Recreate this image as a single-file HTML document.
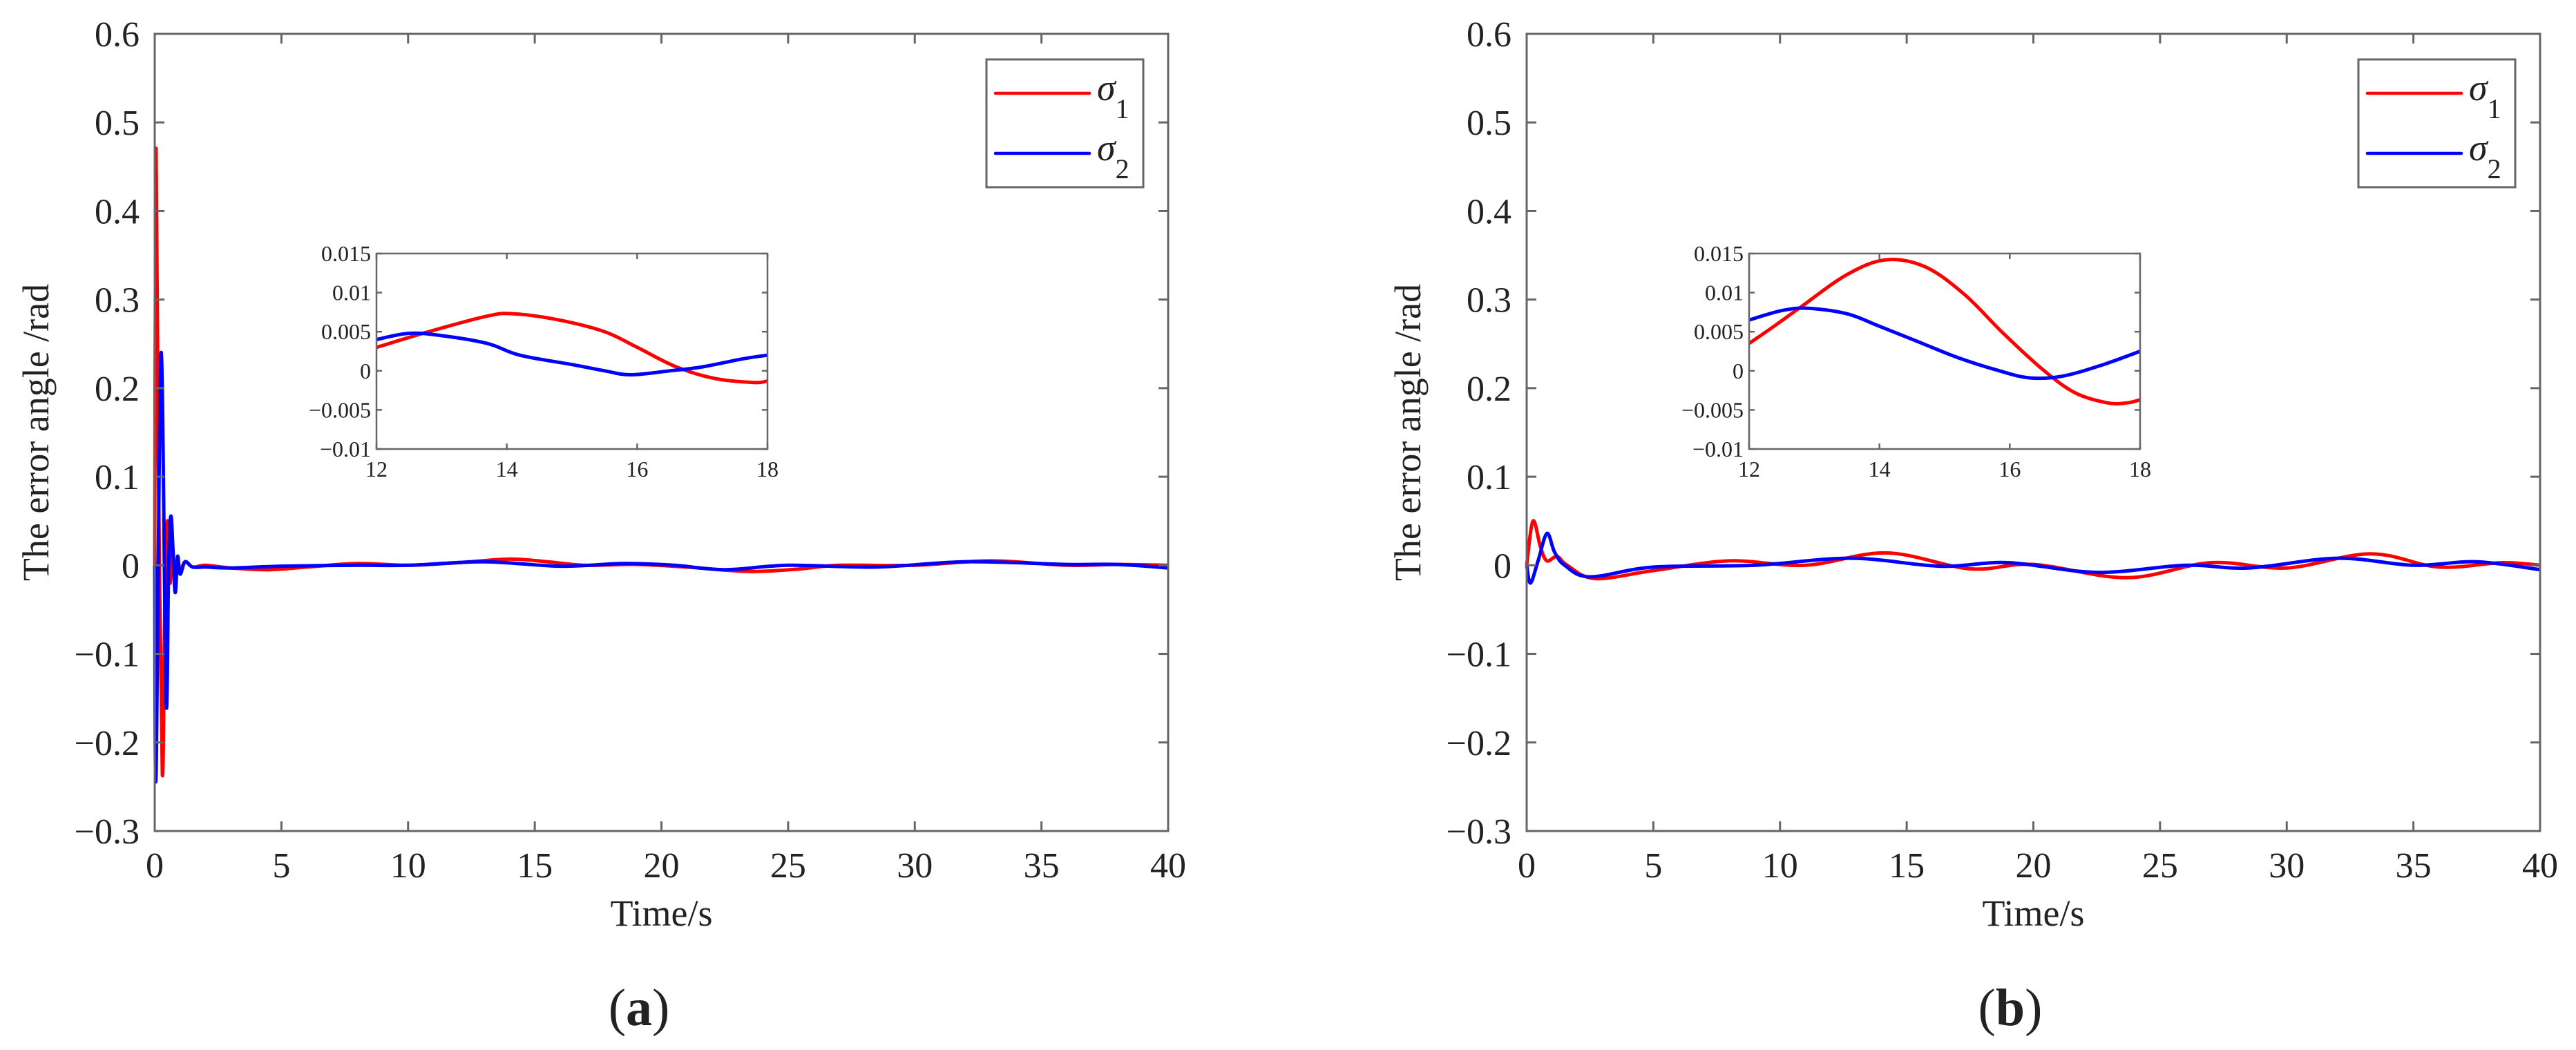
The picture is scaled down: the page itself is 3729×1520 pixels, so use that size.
<!DOCTYPE html>
<html><head><meta charset="utf-8">
<style>
html,body{margin:0;padding:0;background:#fff;}
svg{display:block;}
text{font-family:"Liberation Serif",serif;fill:#222;}
</style></head>
<body>
<svg id="fig" width="3729" height="1520" viewBox="0 0 3729 1520" xmlns="http://www.w3.org/2000/svg"></svg>
<script>
// ---- data ----
const xTicks = [0,5,10,15,20,25,30,35,40];
const yTicks = [-0.3,-0.2,-0.1,0,0.1,0.2,0.3,0.4,0.5,0.6];
const yTickLabels = ["\u22120.3","\u22120.2","\u22120.1","0","0.1","0.2","0.3","0.4","0.5","0.6"];
const insetXTicks = [12,14,16,18];
const insetYTicks = [-0.01,-0.005,0,0.005,0.01,0.015];
const insetYTickLabels = ["\u22120.01","\u22120.005","0","0.005","0.01","0.015"];

// panel (a) main series
const aT1 = [0,0.05,0.15,0.3,0.4,0.5,0.6,0.7,0.8,0.9,1.0,1.2,1.5,2,3,4.5,6,8,10,12,14,15.5,17,19,21,23.5,25.5,27,30,33,36,38,40];
const aS1 = [0,0.47,0.1,-0.235,-0.05,0.05,-0.02,0.02,-0.015,0.008,-0.006,0.004,-0.002,0,-0.003,-0.005,-0.002,0.002,0,0.003,0.007,0.004,0,0.001,-0.002,-0.007,-0.004,0,0,0.005,0,0.001,0];
const aT2 = [0,0.05,0.25,0.45,0.55,0.65,0.8,0.9,1.0,1.2,1.5,2,3,5,8,10,13,16,18.5,20.5,22.5,25,28.5,32,36,38,40];
const aS2 = [0,-0.24,0.24,-0.155,0.0,0.055,-0.03,0.01,-0.01,0.004,-0.002,-0.002,-0.003,-0.001,0,0,0.004,-0.001,0.002,0,-0.005,0,-0.002,0.004,0.001,0.001,-0.003];
// panel (a) inset
const aiT1 = [12,12.8,13.7,14.1,14.8,15.5,16,16.6,17.2,17.8,18];
const aiS1 = [0.003,0.005,0.007,0.0073,0.0065,0.005,0.003,0.0005,-0.001,-0.0015,-0.0013];
const aiT2 = [12,12.5,13,13.7,14.2,15,15.5,15.9,16.5,17,17.6,18];
const aiS2 = [0.004,0.0048,0.0045,0.0035,0.002,0.0008,0,-0.0005,0,0.0005,0.0015,0.002];

// panel (b) main series
const bT1 = [0,0.25,0.55,0.8,1.2,1.6,2.7,5,8,11,14.2,17.5,20,23.7,27,30,33.3,36,38.5,40];
const bS1 = [0,0.05,0.02,0.005,0.01,0.0,-0.015,-0.006,0.005,0,0.014,-0.004,0.001,-0.014,0.003,-0.003,0.013,-0.002,0.003,0];
const bT2 = [0,0.15,0.45,0.8,1.1,1.5,2.5,5,9,12.8,16.3,19,22.5,26,28.5,32,35,37.5,40];
const bS2 = [0,-0.02,0.005,0.036,0.015,0,-0.013,-0.002,0,0.008,-0.001,0.003,-0.008,0,-0.003,0.008,0,0.004,-0.005];
// panel (b) inset
const biT1 = [12,12.4,12.8,13.5,14.1,14.7,15.3,15.9,16.5,17,17.5,17.8,18];
const biS1 = [0.0035,0.0058,0.0082,0.0123,0.0142,0.0133,0.0098,0.0048,0.0002,-0.0028,-0.0041,-0.0041,-0.0037];
const biT2 = [12,12.5,12.9,13.5,14,14.6,15.2,15.8,16.3,16.8,17.4,18];
const biS2 = [0.0065,0.0077,0.008,0.0073,0.0057,0.0037,0.0017,0.0001,-0.0009,-0.0007,0.0007,0.0025];

const NS = "http://www.w3.org/2000/svg";
const svg = document.getElementById('fig');
function mk(tag, attrs, parent){
  const e = document.createElementNS(NS, tag);
  for (const k in attrs) e.setAttribute(k, attrs[k]);
  (parent||svg).appendChild(e);
  return e;
}
function linScale(d0,d1,r0,r1){ return v => r0 + (v-d0)/(d1-d0)*(r1-r0); }
function smoothPath(xs, ys){
  const n = xs.length;
  let d = "M"+xs[0].toFixed(1)+","+ys[0].toFixed(1);
  for (let i=0;i<n-1;i++){
    const x0 = xs[Math.max(0,i-1)], y0 = ys[Math.max(0,i-1)];
    const x1 = xs[i], y1 = ys[i], x2 = xs[i+1], y2 = ys[i+1];
    const x3 = xs[Math.min(n-1,i+2)], y3 = ys[Math.min(n-1,i+2)];
    const t = 1/6;
    const c1x = x1 + (x2-x0)*t, c1y = y1 + (y2-y0)*t;
    const c2x = x2 - (x3-x1)*t, c2y = y2 - (y3-y1)*t;
    d += " C"+c1x.toFixed(1)+","+c1y.toFixed(1)+" "+c2x.toFixed(1)+","+c2y.toFixed(1)+" "+x2.toFixed(1)+","+y2.toFixed(1);
  }
  return d;
}

function panel(cfg){
  const g = mk('g', {});
  
  
  const L=cfg.left, R=cfg.right, T=49, B=1203;
  const sx = linScale(0,40,L,R), sy = linScale(-0.3,0.6,B,T);
  [[cfg.t1,cfg.s1,'#ff0000','sigma1-line'],[cfg.t2,cfg.s2,'#0000ff','sigma2-line']].forEach(s=>{
    const p = mk('path', {d: smoothPath(s[0].map(sx), s[1].map(sy)), fill:'none', stroke:s[2], 'stroke-width':5, 'stroke-linejoin':'round'}, g);
    
    
  });
  const box = mk('rect', {x:L, y:T, width:R-L, height:B-T, fill:'none', stroke:'#666', 'stroke-width':3}, g);
  
  
  xTicks.forEach(v=>{
    const x = sx(v);
    mk('line',{x1:x,y1:B,x2:x,y2:B-14,stroke:'#666','stroke-width':3},g);
    mk('line',{x1:x,y1:T,x2:x,y2:T+14,stroke:'#666','stroke-width':3},g);
    const tx = mk('text',{x:x,y:1270,'font-size':52,'text-anchor':'middle'},g);
    tx.textContent = v;
    
    
  });
  yTicks.forEach((v,i)=>{
    const y = sy(v);
    mk('line',{x1:L,y1:y,x2:L+14,y2:y,stroke:'#666','stroke-width':3},g);
    mk('line',{x1:R,y1:y,x2:R-14,y2:y,stroke:'#666','stroke-width':3},g);
    const tx = mk('text',{x:L-22,y:y+18,'font-size':52,'text-anchor':'end'},g);
    tx.textContent = yTickLabels[i];
    
    
  });
  const xl = mk('text',{x:(L+R)/2,y:1340,'font-size':54,'text-anchor':'middle'},g);
  xl.textContent = 'Time/s';
  
  
  const yl = mk('text',{x:0,y:0,'font-size':54,'text-anchor':'middle',transform:'translate('+(L-154)+',626) rotate(-90)'},g);
  yl.textContent = 'The error angle /rad';
  
  
  const cap = mk('text',{x:cfg.capX,y:1484,'font-size':76,'text-anchor':'middle',fill:'#000'},g);
  cap.innerHTML = '(<tspan font-weight="bold">'+cfg.cap+'</tspan>)';
  
  
  const lg = mk('g',{},g);
  
  
  const lx = cfg.legX;
  mk('rect',{x:lx,y:86,width:227,height:185,fill:'#fff',stroke:'#666','stroke-width':3},lg);
  [['#ff0000','1',135],['#0000ff','2',222]].forEach(e=>{
    const le = mk('g',{},lg);
    
    
    mk('line',{x1:lx+13,y1:e[2],x2:lx+149,y2:e[2],stroke:e[0],'stroke-width':4.5,'stroke-linecap':'round'},le);
    const t = mk('text',{x:lx+160,y:e[2]+10,'font-size':54,'font-style':'italic'},le);
    t.innerHTML = '\u03C3<tspan dy="26" font-size="40" font-style="normal">'+e[1]+'</tspan>';
  });
  const ig = mk('g',{},g);
  
  
  const iL=cfg.inL, iR=cfg.inL+566, iT=367, iB=650;
  const isx = linScale(12,18,iL,iR), isy = linScale(-0.01,0.015,iB,iT);
  mk('rect',{x:iL,y:iT,width:iR-iL,height:iB-iT,fill:'#fff',stroke:'none'},ig);
  [[cfg.it1,cfg.is1,'#ff0000','inset-sigma1-line'],[cfg.it2,cfg.is2,'#0000ff','inset-sigma2-line']].forEach(s=>{
    const p = mk('path',{d:smoothPath(s[0].map(isx), s[1].map(isy)),fill:'none',stroke:s[2],'stroke-width':5},ig);
    
    
  });
  mk('rect',{x:iL,y:iT,width:iR-iL,height:iB-iT,fill:'none',stroke:'#666','stroke-width':2.5},ig);
  insetXTicks.forEach(v=>{
    const x = isx(v);
    mk('line',{x1:x,y1:iB,x2:x,y2:iB-8,stroke:'#666','stroke-width':2.5},ig);
    mk('line',{x1:x,y1:iT,x2:x,y2:iT+8,stroke:'#666','stroke-width':2.5},ig);
    const t = mk('text',{x:x,y:iB+40,'font-size':32,'text-anchor':'middle'},ig);
    t.textContent = v;
    
    
  });
  insetYTicks.forEach((v,i)=>{
    const y = isy(v);
    mk('line',{x1:iL,y1:y,x2:iL+8,y2:y,stroke:'#666','stroke-width':2.5},ig);
    mk('line',{x1:iR,y1:y,x2:iR-8,y2:y,stroke:'#666','stroke-width':2.5},ig);
    const t = mk('text',{x:iL-8,y:y+11,'font-size':32,'text-anchor':'end'},ig);
    t.textContent = insetYTickLabels[i];
    
    
  });
}

panel({name:'panel-a', left:224, right:1691, t1:aT1, s1:aS1, t2:aT2, s2:aS2, legX:1428, inL:545,
       it1:aiT1, is1:aiS1, it2:aiT2, is2:aiS2, cap:'a', capX:925});
panel({name:'panel-b', left:2210, right:3677, t1:bT1, s1:bS1, t2:bT2, s2:bS2, legX:3414, inL:2532,
       it1:biT1, is1:biS1, it2:biT2, is2:biS2, cap:'b', capX:2910});
</script>
</body></html>
